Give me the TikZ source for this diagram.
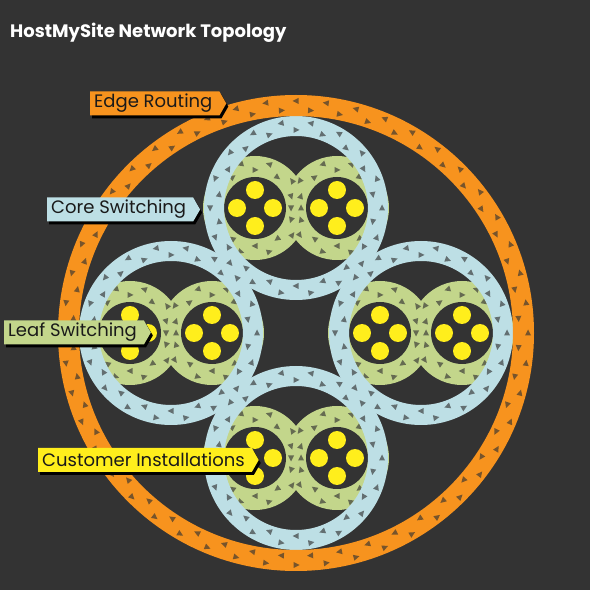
\documentclass[tikz,border=0pt]{standalone}
\usepackage{fontspec}
\setmainfont{Poppins}
\usetikzlibrary{shapes.symbols,shadows}
\definecolor{bg}{HTML}{333333}
\definecolor{edgeor}{HTML}{F7931E}
\definecolor{coreblue}{HTML}{BDDFE5}
\definecolor{leafgreen}{HTML}{C3D68B}
\definecolor{custyellow}{HTML}{FFEE1C}
\definecolor{labtext}{HTML}{1A1A1A}
\tikzset{
  tri/.style={fill=bg, fill opacity=0.65},
  lab/.style={shape=signal, signal to=east, signal pointer angle=120,
    minimum height=24pt, inner xsep=4pt, inner ysep=0pt, text=labtext,
    font=\fontsize{18}{20}\selectfont, anchor=west,
    general shadow={fill=black, shadow xshift=2pt, shadow yshift=-3pt}},
}
\newcommand\arrowring[5]{%
  \pgfmathsetmacro\stpA{360/#5}%
  \foreach \i in {1,...,#5}{%
    \pgfmathsetmacro\angA{\i*\stpA}%
    \pgfmathsetmacro\angB{\angA+\stpA/2}%
    \fill[tri, shift={(#1,#2)}, rotate=\angA] (#3,3.5) -- (#3-3,-2.5) -- (#3+3,-2.5) -- cycle;
    \fill[tri, shift={(#1,#2)}, rotate=\angB] (#4,-3.5) -- (#4-3,2.5) -- (#4+3,2.5) -- cycle;
  }}
\newcommand\clustergreen[2]{%
  \fill[leafgreen] (#1-41,#2) circle[radius=52] (#1+41,#2) circle[radius=52];
  \arrowring{#1-41}{#2}{46}{38}{10}
  \arrowring{#1+41}{#2}{46}{38}{10}
  \fill[bg] (#1-41,#2) circle[radius=31] (#1+41,#2) circle[radius=31];
  \foreach \dx in {-41,41}{
    \fill[custyellow] (#1+\dx,#2+18) circle[radius=9] (#1+\dx,#2-18) circle[radius=9]
      (#1+\dx-18,#2) circle[radius=9] (#1+\dx+18,#2) circle[radius=9];
  }}
\newcommand\bluering[2]{%
  \fill[coreblue, even odd rule] (#1,#2) circle[radius=92] circle[radius=72];}
\begin{document}
\begin{tikzpicture}[x=1pt,y=1pt]
\useasboundingbox (0,0) rectangle (590,590);
\fill[bg] (0,0) rectangle (590,590);
\node[anchor=base west, inner sep=0pt, text=white, font=\fontsize{18}{20}\selectfont\bfseries] (title) at (10,552) {HostMySite Network Topology};
% leaf switching + customer installations
\clustergreen{296}{382}
\clustergreen{171}{257}
\clustergreen{421}{257}
\clustergreen{296}{132}
% core switching rings
\bluering{296}{382}
\bluering{171}{257}
\bluering{421}{257}
\bluering{296}{132}
\arrowring{296}{382}{86}{78}{18}
\arrowring{171}{257}{86}{78}{18}
\arrowring{421}{257}{86}{78}{18}
\arrowring{296}{132}{86}{78}{18}
% edge routing ring
\fill[edgeor, even odd rule] (296,257) circle[radius=238] circle[radius=217];
\arrowring{296}{257}{232}{223}{48}
% labels
\node[lab, fill=edgeor] (edge) at (90,486.5) {Edge Routing\hspace*{3pt}};
\node[lab, fill=coreblue] (core) at (47,380.5) {Core Switching\hspace*{3pt}};
\node[lab, fill=leafgreen] (leaf) at (4,257.5) {Leaf Switching\hspace*{3pt}};
\node[lab, fill=custyellow] (cust) at (38,130) {Customer Installations\hspace*{3pt}};
\end{tikzpicture}
\end{document}
